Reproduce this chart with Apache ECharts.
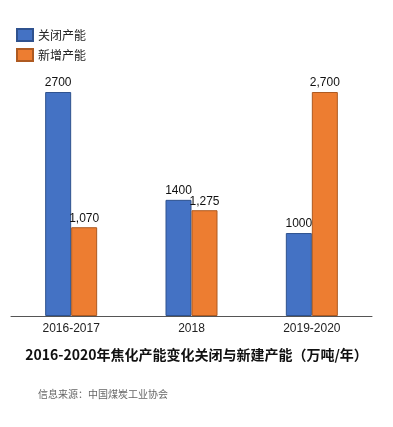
<!DOCTYPE html>
<html><head><meta charset="utf-8">
<script src="https://cdn.jsdelivr.net/npm/echarts@6/dist/echarts.min.js"></script>
<style>html,body{margin:0;padding:0;background:#fff}#c{width:393px;height:427px}</style>
</head><body><div id="c"></div>
<script>
const categories = ['2016-2017', '2018', '2019-2020'];
const closedCapacity = [2700, 1400, 1000];
const newCapacity = [1070, 1275, 2700];
const seriesNames = ['关闭产能', '新增产能'];
const titleText = '2016-2020年焦化产能变化关闭与新建产能（万吨/年）';
const sourceText = '信息来源：中国煤炭工业协会';

const chart = echarts.init(document.getElementById('c'));
const font = '"Noto Sans CJK SC", "Noto Sans", sans-serif';
chart.setOption({
  animation: false,
  textStyle: {fontFamily: font},
  legend: {
    orient: 'vertical', left: 16, top: 28, padding: 0, itemGap: 6,
    itemWidth: 16, itemHeight: 12, icon: 'rect',
    textStyle: {fontSize: 12, color: '#222', fontFamily: font},
    data: seriesNames
  },
  graphic: [
    {type: 'text', left: 'center', top: 348, style: {text: titleText, font: 'bold 14px ' + font, fill: '#111'}},
    {type: 'text', left: 38, top: 389, style: {text: sourceText, font: '10px ' + font, fill: '#666'}}
  ],
  grid: {left: 11, right: 21, top: 92, bottom: 111, containLabel: false},
  xAxis: {
    type: 'category', data: categories,
    axisLine: {lineStyle: {color: '#555', width: 1}},
    axisTick: {show: false},
    axisLabel: {fontSize: 12, color: '#222', margin: 7, fontFamily: 'Liberation Sans, Arial, sans-serif'}
  },
  yAxis: {type: 'value', min: 0, max: 2700, show: false, splitLine: {show: false}},
  series: [
    {
      name: seriesNames[0], type: 'bar', data: closedCapacity, barWidth: 26, barGap: '0%',
      itemStyle: {color: '#4472C4', borderColor: '#2F528F', borderWidth: 1},
      label: {show: true, position: 'top', distance: 3, fontSize: 12, color: '#111', fontFamily: 'Liberation Sans, Arial, sans-serif',
        formatter: p => String(p.value)}
    },
    {
      name: seriesNames[1], type: 'bar', data: newCapacity, barWidth: 26,
      itemStyle: {color: '#ED7D31', borderColor: '#AE5A21', borderWidth: 1},
      label: {show: true, position: 'top', distance: 3, fontSize: 12, color: '#111', fontFamily: 'Liberation Sans, Arial, sans-serif',
        formatter: p => p.value.toLocaleString('en-US')}
    }
  ]
});
</script></body></html>
